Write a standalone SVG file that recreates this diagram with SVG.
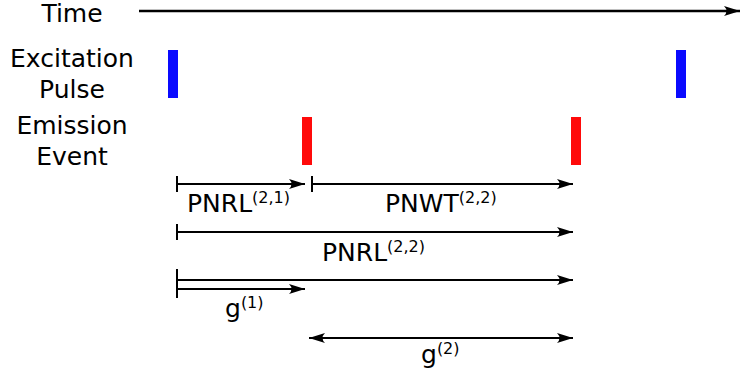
<svg xmlns="http://www.w3.org/2000/svg" width="741" height="379" viewBox="0 0 741 379">
<style>
text{font-family:"DejaVu Sans","Liberation Sans",sans-serif;font-size:25px;fill:#000}
.sup{font-size:16px}
.ln{stroke:#000;stroke-width:2;fill:none}
.tk{stroke:#000;stroke-width:2}
</style>
<defs>
<marker id="ah" markerUnits="userSpaceOnUse" markerWidth="20" markerHeight="14" viewBox="-17 -7 19 14" refX="0" refY="0" orient="auto">
<path d="M0,0 L-16,-5 Q-11,0 -16,5 Z" fill="#000"/>
</marker>
<marker id="ahs" markerUnits="userSpaceOnUse" markerWidth="20" markerHeight="14" viewBox="-17 -7 19 14" refX="0" refY="0" orient="auto-start-reverse">
<path d="M0,0 L-16,-5 Q-11,0 -16,5 Z" fill="#000"/>
</marker>
</defs>
<g id="labels">
<text x="72" y="22" text-anchor="middle">Time</text>
<text x="72" y="67" text-anchor="middle">Excitation</text>
<text x="72" y="98" text-anchor="middle">Pulse</text>
<text x="72" y="134" text-anchor="middle">Emission</text>
<text x="72" y="165" text-anchor="middle">Event</text>
</g>
<g id="pulses">
<rect x="168" y="50" width="10" height="48" fill="#0a0aff"/>
<rect x="676" y="50" width="10" height="48" fill="#0a0aff"/>
</g>
<g id="emissions">
<rect x="302" y="117" width="10" height="48" fill="#ff0a0a"/>
<rect x="571" y="117" width="10" height="48" fill="#ff0a0a"/>
</g>
<g id="connectors">
<line x1="139" y1="11" x2="740" y2="11" class="ln" style="stroke-width:2.4" marker-end="url(#ah)"/>
<line x1="177" y1="176" x2="177" y2="192" class="tk"/>
<line x1="177" y1="184" x2="305" y2="184" class="ln" marker-end="url(#ah)"/>
<line x1="312" y1="176" x2="312" y2="192" class="tk"/>
<line x1="312" y1="184" x2="573" y2="184" class="ln" marker-end="url(#ah)"/>
<line x1="177" y1="224" x2="177" y2="240" class="tk"/>
<line x1="177" y1="232" x2="573" y2="232" class="ln" marker-end="url(#ah)"/>
<line x1="177" y1="269" x2="177" y2="298" class="tk"/>
<line x1="177" y1="280" x2="573" y2="280" class="ln" marker-end="url(#ah)"/>
<line x1="177" y1="289" x2="305" y2="289" class="ln" marker-end="url(#ah)"/>
<line x1="309" y1="338" x2="573" y2="338" class="ln" marker-start="url(#ahs)" marker-end="url(#ah)"/>
</g>
<g id="interval-labels">
<text x="187" y="212">PNRL<tspan class="sup" dy="-9">(2,1)</tspan></text>
<text x="385" y="212">PNWT<tspan class="sup" dy="-9">(2,2)</tspan></text>
<text x="322" y="261">PNRL<tspan class="sup" dy="-9">(2,2)</tspan></text>
<text x="225" y="317">g<tspan class="sup" dy="-9">(1)</tspan></text>
<text x="421" y="363">g<tspan class="sup" dy="-9">(2)</tspan></text>
</g>
</svg>
